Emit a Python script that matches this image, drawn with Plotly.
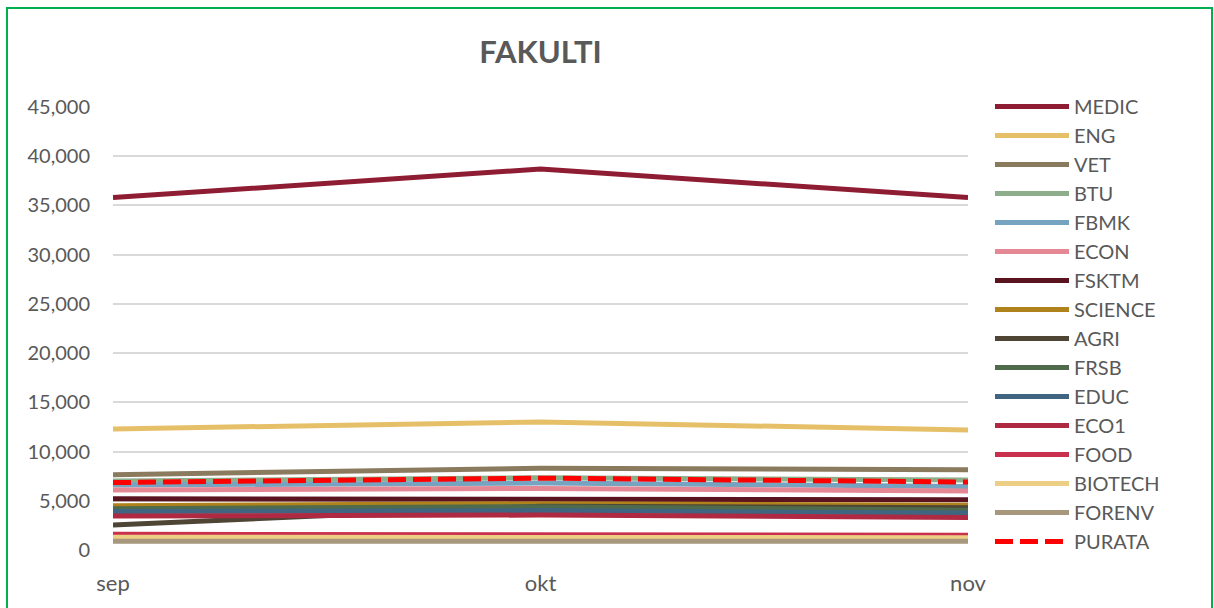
import plotly.graph_objects as go

months = ["sep", "okt", "nov"]
series_names = ["MEDIC", "ENG", "VET", "BTU", "FBMK", "ECON", "FSKTM", "SCIENCE",
                "AGRI", "FRSB", "EDUC", "ECO1", "FOOD", "BIOTECH", "FORENV", "PURATA"]
medic = [35800, 38700, 35800]
eng = [12300, 13000, 12200]
vet = [7650, 8300, 8150]
btu = [7000, 7350, 7100]
fbmk = [6600, 6800, 6450]
econ = [6100, 6250, 6000]
fsktm = [5200, 5200, 5100]
science = [4500, 4700, 4550]
agri = [2550, 4450, 4300]
frsb = [4200, 4400, 4050]
educ = [3900, 4000, 3750]
eco1 = [3450, 3550, 3300]
food = [1600, 1600, 1500]
biotech = [1300, 1300, 1250]
forenv = [900, 900, 900]
purata = [6850, 7300, 6900]
values = [medic, eng, vet, btu, fbmk, econ, fsktm, science, agri, frsb, educ,
          eco1, food, biotech, forenv, purata]
colors = ["#8E1C32", "#E6C068", "#8B7B5E", "#8DAE8B", "#75A3C0", "#E48895",
          "#5A1420", "#B0821C", "#4E4535", "#4F6B4C", "#3F6580", "#AF2942",
          "#C8304D", "#EDCE85", "#A6977D", "#FF0000"]

fig = go.Figure()
for name, vals, col in zip(series_names, values, colors):
    dash = "18px,7px" if name == "PURATA" else "solid"
    fig.add_trace(go.Scatter(x=months, y=vals, name=name, mode="lines",
                             line=dict(color=col, width=5, dash=dash)))

fig.update_layout(
    width=1214, height=608,
    margin=dict(l=113, r=246, t=107, b=58),
    paper_bgcolor="white", plot_bgcolor="white",
    font=dict(family="Lato, Carlito, sans-serif", color="#595959", size=20),
    title=dict(text="<b>FAKULTI</b>", x=0.5, xref="paper", xanchor="center",
               y=1 - 52 / 608, yanchor="middle",
               font=dict(size=31, color="#595959")),
    showlegend=True,
    legend=dict(x=(990 - 113) / 855, xanchor="left", y=(550 - 87) / 443, yanchor="top",
                font=dict(size=20, color="#595959"), tracegroupgap=0,
                itemwidth=74, maxheight=600,
                bgcolor="rgba(0,0,0,0)", traceorder="normal"),
    xaxis=dict(type="category", range=[0, 2], showgrid=False, showline=False,
               zeroline=False, ticks="", tickfont=dict(size=22, color="#595959"),
               ticklabelstandoff=18, automargin=False),
    yaxis=dict(range=[0, 45000], tickvals=list(range(0, 45001, 5000)),
               tickformat=",d", showgrid=True, gridcolor="#D9D9D9", gridwidth=1.5,
               zeroline=False, showline=False, ticks="",
               tickfont=dict(size=20, color="#595959"), ticklabelstandoff=22,
               automargin=False),
)
fig.add_shape(type="rect", xref="paper", yref="paper",
              x0=(7 - 113) / 855, x1=(1212 - 113) / 855,
              y0=(550 - 612) / 443, y1=(550 - 8) / 443,
              line=dict(color="#00B050", width=2), fillcolor="rgba(0,0,0,0)", layer="below")
fig.write_html("out.html", config={"displayModeBar": False},
               post_script="document.body.style.margin='0';")
